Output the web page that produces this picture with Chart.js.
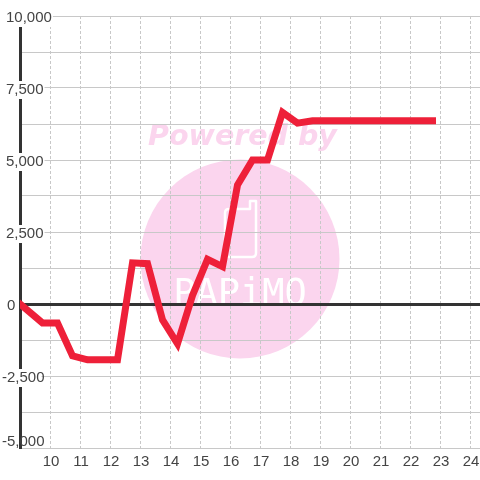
<!DOCTYPE html>
<html><head><meta charset="utf-8">
<style>html,body{margin:0;padding:0;background:#fff}canvas{display:block}</style>
<script src="https://cdn.jsdelivr.net/npm/chart.js@4"></script></head>
<body><div style="width:480px;height:480px"><canvas id="c" width="480" height="480"></canvas></div>
<script>
const hours = [9,9.75,10.25,10.75,11.25,11.75,12.25,12.75,13.25,13.75,14.25,14.75,15.25,15.75,16.25,16.75,17.25,17.75,18.25,18.75,19.25,19.75,20.25,20.75,21.25,21.75,22.25,22.75];
const values = [0,-660,-660,-1800,-1940,-1940,-1940,1430,1400,-550,-1380,300,1550,1300,4130,5000,5000,6650,6280,6360,6360,6360,6360,6360,6360,6360,6360,6360];
const xTicks = [9,10,11,12,13,14,15,16,17,18,19,20,21,22,23,24];
const yMin=-5000,yMax=10000,yStep=1250,labelStep=2500;
const xMin=9,xMax=24.333;
const watermark={
  id:'watermark',
  beforeDraw(ch){
    const c=ch.ctx;c.save();
    c.fillStyle='#fff';c.fillRect(0,0,480,480);
    c.fillStyle='#fbd5ee';
    c.beginPath();c.arc(240,259,99.5,0,Math.PI*2);c.fill();
    c.font='italic bold 28.5px "DejaVu Sans"';c.textAlign='center';c.textBaseline='alphabetic';
    c.fillText('Powered by',242.5,144.5);
    c.strokeStyle='#fff';c.lineWidth=2.5;c.lineJoin='round';
    c.beginPath();c.moveTo(250,209);c.lineTo(229,209);c.quadraticCurveTo(225,209,225,213);
    c.lineTo(225,253);c.quadraticCurveTo(225,257,229,257);c.lineTo(252,257);
    c.quadraticCurveTo(256,257,256,253);c.lineTo(256,201);c.lineTo(250,201);c.closePath();c.stroke();
    c.fillStyle='#fff';c.font='37px "DejaVu Sans Mono"';
    c.fillText('PAPiMO',240,305);
    // small per-label nudges of the axis text
    ch.scales.y.getLabelItems().forEach(it=>{
      const l=String(it.label),o=it.options;
      if(o._shifted||!l)return;
      const dx=l[0]==='-'?-4:(l==='0'?1:0);
      o.translation[0]+=dx;o.translation[1]+=1.5;
      if(o.backdrop){o.backdrop.left+=dx;o.backdrop.top+=0.5;}
      if(l==='-5,000'){
        o.translation[1]-=7.5;
        if(o.backdrop){o.backdrop.top=437;o.backdrop.height=14;}
      }
      o._shifted=true;
    });
    ch.scales.x.getLabelItems().forEach(it=>{
      const o=it.options;
      if(o._shifted)return;
      o.translation[0]+=1;o._shifted=true;
    });
    c.restore();
  }
};
new Chart(document.getElementById('c'),{
  type:'line',
  data:{datasets:[{data:hours.map((h,i)=>({x:h,y:values[i]})),borderColor:'#ee2039',borderWidth:7,pointRadius:0,tension:0,borderJoinStyle:'miter',borderCapStyle:'square'}]},
  plugins:[watermark],
  options:{
    responsive:false,animation:false,
    layout:{padding:{top:16,left:20,right:0,bottom:0}},
    plugins:{legend:{display:false},tooltip:{enabled:false},title:{display:false}},
    scales:{
      x:{type:'linear',min:xMin,max:xMax,
        afterFit(s){s.height=32;s.paddingLeft=0;s.paddingRight=0},
        afterBuildTicks(s){s.ticks=xTicks.map(v=>({value:v}))},
        grid:{color:'#c8c8c8',lineWidth:1,drawTicks:false},
        border:{color:'#c8c8c8',width:1,dash:[3,2]},
        ticks:{stepSize:1,padding:5,maxRotation:0,autoSkip:false,color:'#444',font:{family:'"Liberation Sans"',size:15},callback:v=>v===9?'':String(v)}},
      y:{min:yMin,max:yMax,
        afterFit(s){s.width=0;s.paddingTop=0;s.paddingBottom=0},
        grid:{color:c=>c.tick&&c.tick.value===0?'#333':'#c8c8c8',lineWidth:c=>c.tick&&c.tick.value===0?3:1,drawTicks:false},
        border:{color:'#333',width:3},
        ticks:{stepSize:yStep,autoSkip:false,mirror:true,padding:-14,z:0,color:'#444',font:{family:'"Liberation Sans"',size:15},
          showLabelBackdrop:c=>c.tick&&c.tick.value%labelStep===0,backdropColor:'#fff',backdropPadding:{left:0,right:1,top:0,bottom:0},
          callback:v=>v%labelStep===0?v.toLocaleString('en-US'):''}}
    }
  }
});
</script></body></html>
